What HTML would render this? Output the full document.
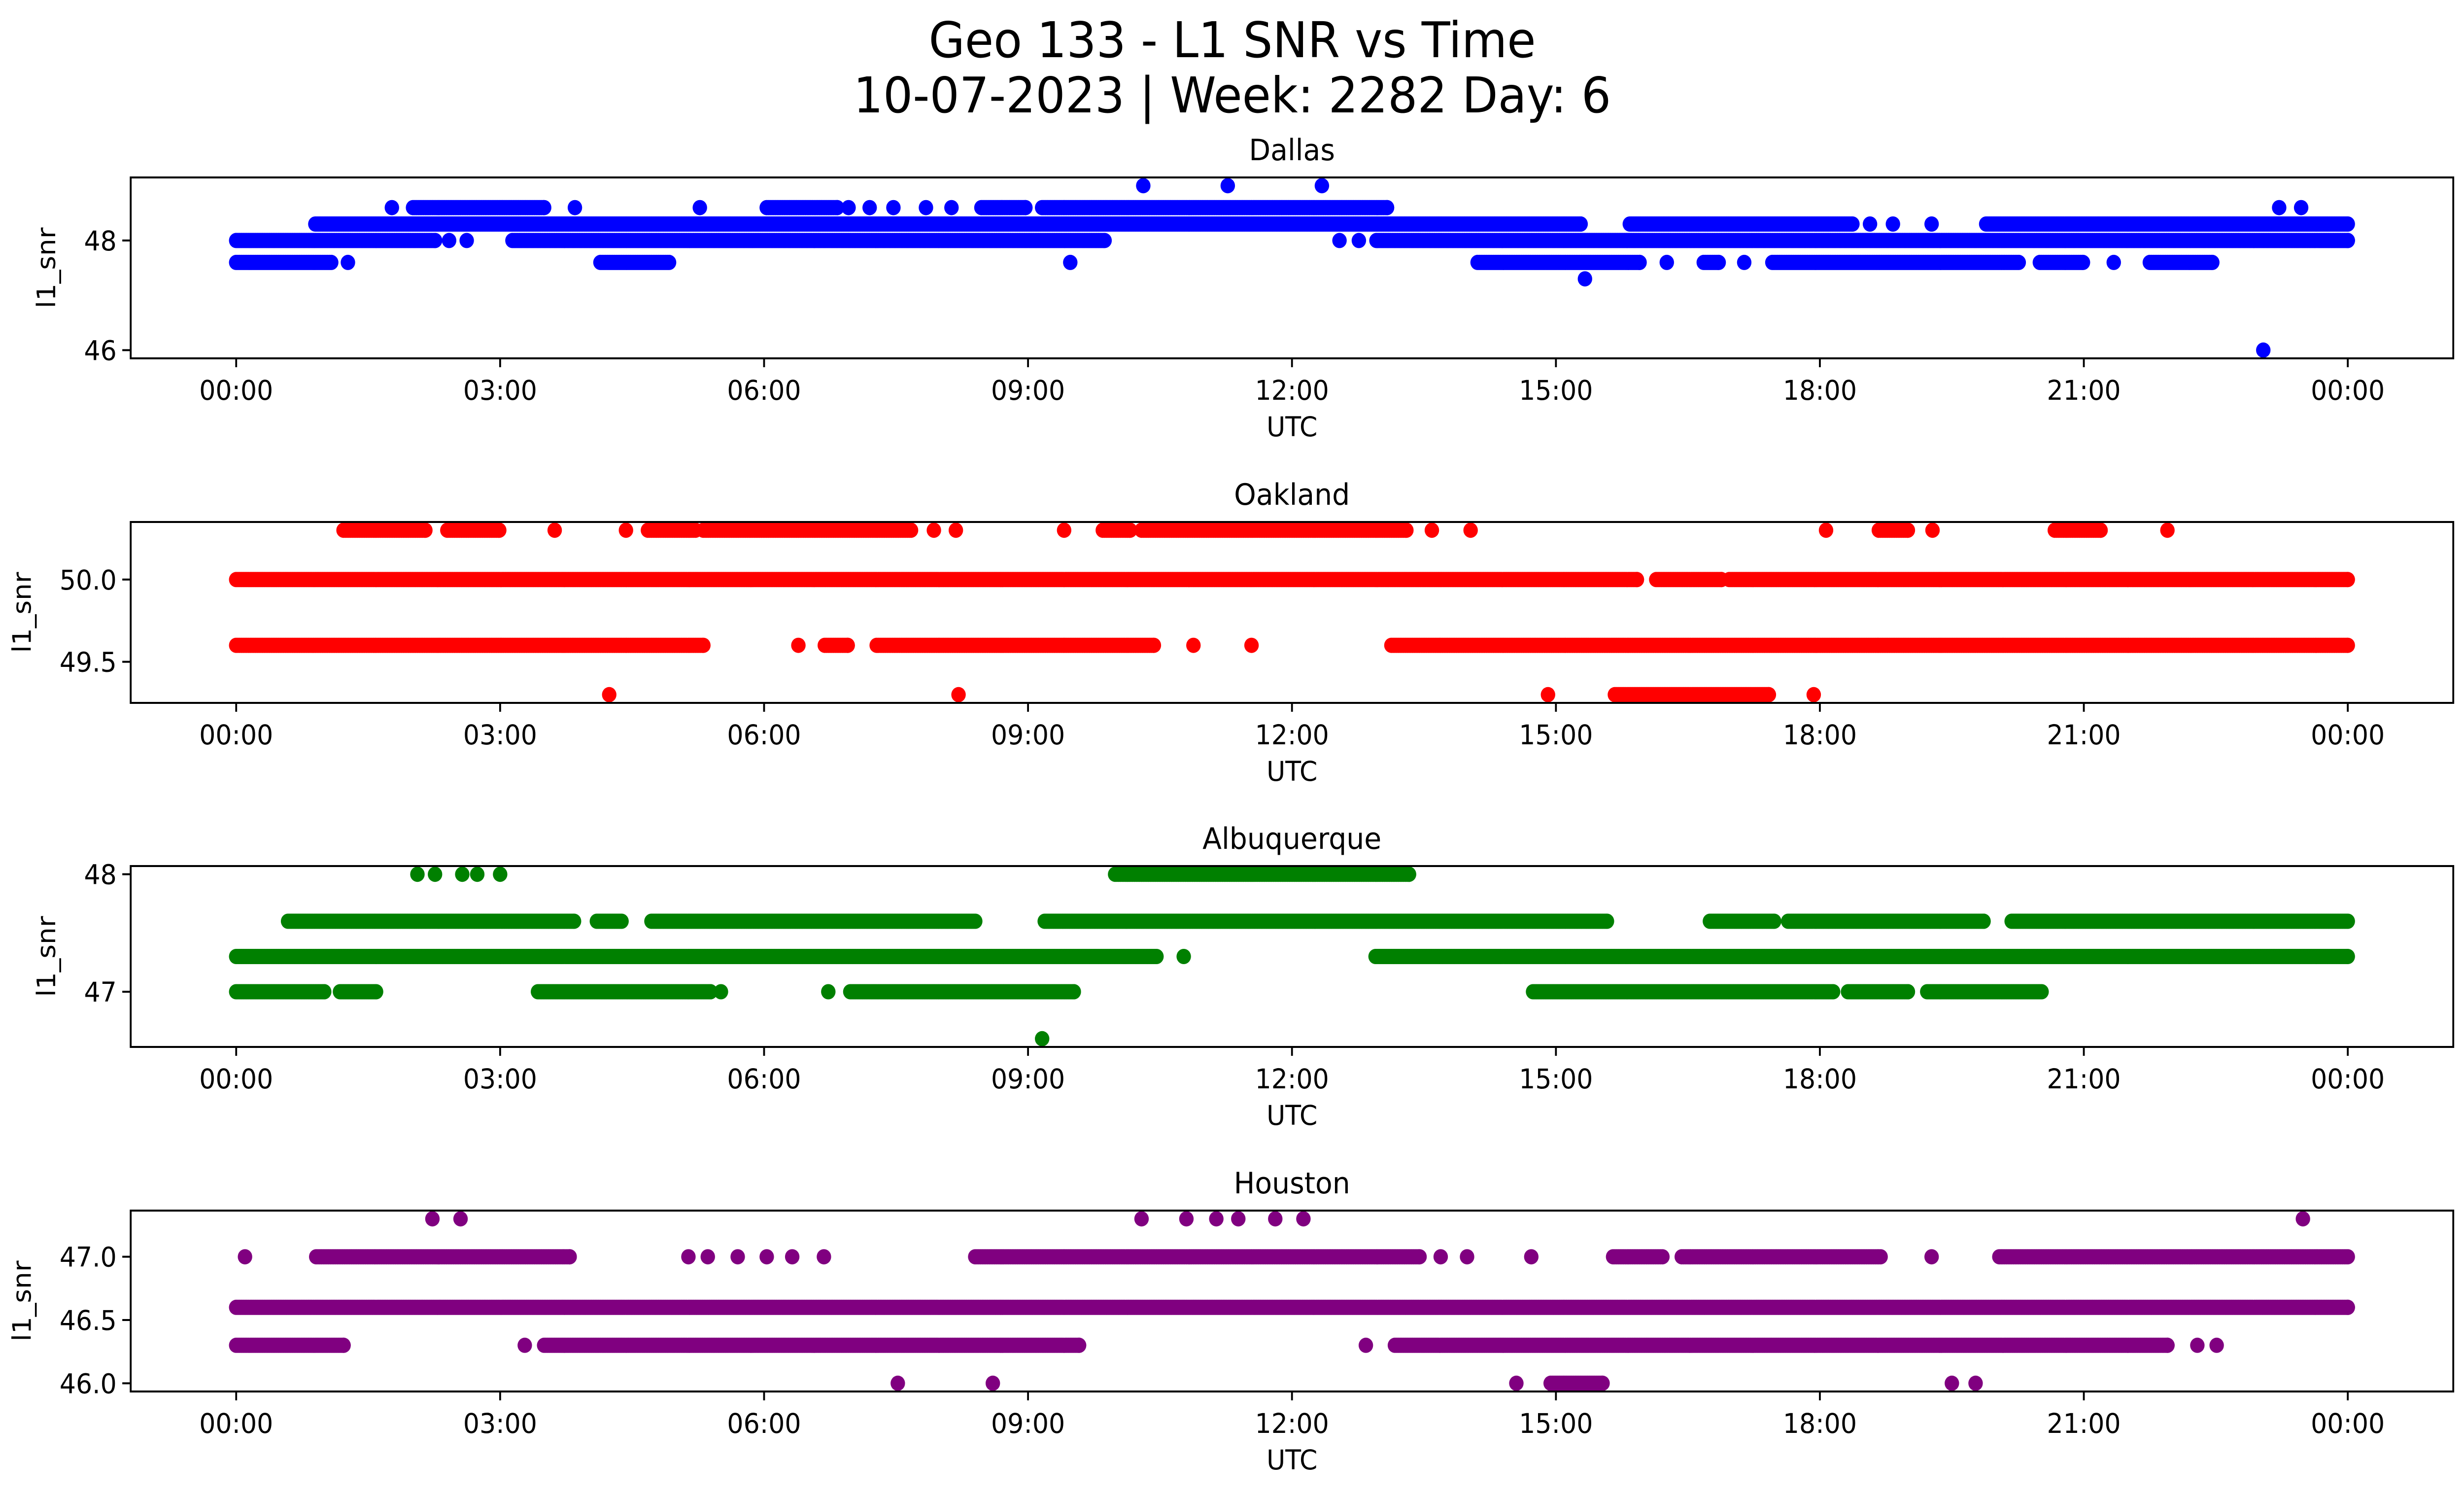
<!DOCTYPE html>
<html><head><meta charset="utf-8">
<style>
html,body{margin:0;padding:0;background:#fff;width:100vw;height:100vh;overflow:hidden;}
svg{display:block;width:100vw;height:100vh;font-family:"DejaVu Sans","Liberation Sans",sans-serif;}
</style></head>
<body>
<svg id="fig" viewBox="0 0 5279 3033" preserveAspectRatio="none" xmlns="http://www.w3.org/2000/svg">
<rect width="5279" height="3033" fill="#fff"/>
<text x="2640" y="116" font-size="100" text-anchor="middle">Geo 133 - L1 SNR vs Time</text>
<text x="2640" y="228" font-size="100" text-anchor="middle">10-07-2023 | Week: 2282 Day: 6</text>
</svg>
<script>
// ---- data (hours UTC, runs of consecutive samples [start,end]) ----
const xTickHours = [0,3,6,9,12,15,18,21,24];
const xTickLabels = ["00:00","03:00","06:00","09:00","12:00","15:00","18:00","21:00","00:00"];

const dallasLevels = [49.0,48.6,48.3,48.0,47.6,47.3,46.0];
const dallasRuns = [
 [[10.31,10.31],[11.27,11.27],[12.34,12.34]],
 [[1.77,1.77],[2.01,3.5],[3.85,3.85],[5.27,5.27],[6.03,6.83],[6.96,6.96],[7.2,7.2],[7.47,7.47],[7.84,7.84],[8.13,8.13],[8.47,8.97],[9.16,13.08],[23.22,23.22],[23.47,23.47]],
 [[0.9,15.28],[15.84,18.37],[18.57,18.57],[18.83,18.83],[19.27,19.27],[19.89,24]],
 [[0,2.26],[2.42,2.42],[2.62,2.62],[3.14,9.87],[12.54,12.54],[12.76,12.76],[12.96,24]],
 [[0,1.08],[1.27,1.27],[4.14,4.92],[9.48,9.48],[14.11,15.95],[16.26,16.26],[16.68,16.85],[17.14,17.14],[17.46,20.26],[20.5,20.99],[21.34,21.34],[21.75,22.46]],
 [[15.33,15.33]],
 [[23.04,23.04]]
];
const dallasTicks = [46,48];

const oaklandLevels = [50.3,50.0,49.6,49.3];
const oaklandRuns = [
 [[1.22,2.15],[2.4,2.99],[3.62,3.62],[4.43,4.43],[4.68,5.22],[5.31,7.67],[7.93,7.93],[8.18,8.18],[9.41,9.41],[9.85,10.16],[10.29,13.3],[13.59,13.59],[14.03,14.03],[18.07,18.07],[18.67,19.0],[19.28,19.28],[20.67,21.19],[21.95,21.95]],
 [[0,15.92],[16.14,16.88],[16.97,24]],
 [[0,5.31],[6.39,6.39],[6.69,6.95],[7.28,10.43],[10.88,10.88],[11.54,11.54],[13.13,24]],
 [[4.24,4.24],[8.21,8.21],[14.91,14.91],[15.67,17.42],[17.93,17.93]]
];
const oaklandTicks = [49.5,50.0];

const albuquerqueLevels = [48.0,47.6,47.3,47.0,46.6];
const albuquerqueRuns = [
 [[2.06,2.06],[2.26,2.26],[2.57,2.57],[2.74,2.74],[3.0,3.0],[9.99,13.33]],
 [[0.59,3.84],[4.1,4.38],[4.72,8.4],[9.19,15.58],[16.75,17.48],[17.64,19.86],[20.18,24]],
 [[0,10.46],[10.77,10.77],[12.95,24]],
 [[0,1.0],[1.18,1.59],[3.43,5.39],[5.51,5.51],[6.73,6.73],[6.98,9.52],[14.74,18.15],[18.32,19.0],[19.22,20.52]],
 [[9.16,9.16]]
];
const albuquerqueTicks = [47,48];

const houstonLevels = [47.3,47.0,46.6,46.3,46.0];
const houstonRuns = [
 [[2.23,2.23],[2.55,2.55],[10.29,10.29],[10.8,10.8],[11.14,11.14],[11.39,11.39],[11.81,11.81],[12.13,12.13],[23.49,23.49]],
 [[0.1,0.1],[0.91,3.79],[5.14,5.14],[5.36,5.36],[5.7,5.7],[6.03,6.03],[6.32,6.32],[6.68,6.68],[8.4,13.45],[13.69,13.69],[13.99,13.99],[14.72,14.72],[15.65,16.21],[16.43,18.69],[19.27,19.27],[20.04,24]],
 [[0,24]],
 [[0,1.22],[3.28,3.28],[3.5,9.58],[12.84,12.84],[13.17,21.95],[22.29,22.29],[22.51,22.51]],
 [[7.52,7.52],[8.6,8.6],[14.55,14.55],[14.94,15.53],[19.5,19.5],[19.77,19.77]]
];
const houstonTicks = [46.0,46.5,47.0];

// ---- layout ----
const NS = "http://www.w3.org/2000/svg";
const svg = document.getElementById('fig');
const AX_L = 280, AX_R = 5256, AX_H = 367;
const X0 = 506, X1 = 5030;
function xScale(h){ return X0 + (X1 - X0) * h / 24; }
function mk(tag, attrs, parent){
  const e = document.createElementNS(NS, tag);
  for (const k in attrs) e.setAttribute(k, attrs[k]);
  (parent || svg).appendChild(e);
  return e;
}

const panels = [
 {name:"Dallas", key:"dallas", top:360, color:"#0000ff", levels:dallasLevels, runs:dallasRuns, ticks:dallasTicks, fmt:v=>v.toFixed(0), ylx:118},
 {name:"Oakland", key:"oakland", top:1059, color:"#ff0000", levels:oaklandLevels, runs:oaklandRuns, ticks:oaklandTicks, fmt:v=>v.toFixed(1), ylx:66},
 {name:"Albuquerque", key:"albuquerque", top:1757, color:"#008000", levels:albuquerqueLevels, runs:albuquerqueRuns, ticks:albuquerqueTicks, fmt:v=>v.toFixed(0), ylx:118},
 {name:"Houston", key:"houston", top:2456, color:"#800080", levels:houstonLevels, runs:houstonRuns, ticks:houstonTicks, fmt:v=>v.toFixed(1), ylx:66}
];

panels.forEach(p => {
  const g = mk('g', {});
  
  
  const lo = Math.min(...p.levels), hi = Math.max(...p.levels);
  const pad = (hi - lo) * 0.05;
  const yMin = lo - pad, yMax = hi + pad;
  const bottom = p.top + AX_H;
  const yScale = v => bottom - (v - yMin) / (yMax - yMin) * AX_H;

  const t = mk('text', {x:(AX_L+AX_R)/2, y:p.top-35, 'font-size':60, 'text-anchor':'middle'}, g);
  t.textContent = p.name;
  
  

  const pts = mk('g', {fill:p.color}, g);
  
  
  p.levels.forEach((lv, i) => {
    const y = yScale(lv);
    p.runs[i].forEach(r => {
      const step = 0.02;
      for (let h = r[0]; h <= r[1] + 1e-9; h += step) {
        mk('circle', {cx:xScale(h).toFixed(1), cy:y.toFixed(1), r:15.5}, pts);
      }
      if ((r[1]-r[0]) % step > 0.005) mk('circle', {cx:xScale(r[1]).toFixed(1), cy:y.toFixed(1), r:15.5}, pts);
    });
  });

  const fr = mk('rect', {x:AX_L, y:p.top, width:AX_R-AX_L, height:AX_H, fill:'none', stroke:'#000', 'stroke-width':4}, g);
  
  

  xTickHours.forEach((h, i) => {
    const x = xScale(h);
    mk('line', {x1:x, x2:x, y1:bottom, y2:bottom+18, stroke:'#000', 'stroke-width':4}, g);
    const tl = mk('text', {x:x, y:bottom+84, 'font-size':55, 'text-anchor':'middle'}, g);
    tl.textContent = xTickLabels[i];
    
    
  });
  const xl = mk('text', {x:(AX_L+AX_R)/2, y:bottom+158, 'font-size':55, 'text-anchor':'middle'}, g);
  xl.textContent = 'UTC';
  
  

  p.ticks.forEach(v => {
    const y = yScale(v);
    mk('line', {x1:AX_L-18, x2:AX_L, y1:y, y2:y, stroke:'#000', 'stroke-width':4}, g);
    const tl = mk('text', {x:AX_L-30, y:y+20, 'font-size':55, 'text-anchor':'end'}, g);
    tl.textContent = p.fmt(v);
    
    
  });
  const yc = p.top + AX_H/2;
  const yl = mk('text', {x:0, y:0, 'font-size':55, 'text-anchor':'middle', transform:`translate(${p.ylx},${yc}) rotate(-90)`}, g);
  yl.textContent = 'l1_snr';
  
  
});
</script>
</body></html>
